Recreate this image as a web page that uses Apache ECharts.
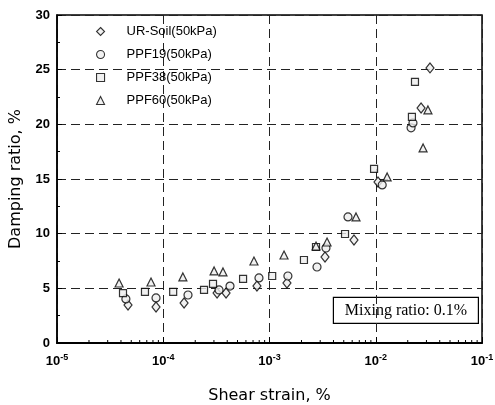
<!DOCTYPE html>
<html>
<head>
<meta charset="utf-8">
<script src="https://cdn.jsdelivr.net/npm/echarts@6/dist/echarts.min.js"></script>
<style>
  html, body { margin: 0; padding: 0; background: #fff; }
  #chart { width: 495px; height: 405px; }
</style>
</head>
<body>
<div id="chart"></div>
<script>
// Shear strain (%) and damping ratio (%) for each specimen
const urSoilStrain = [4.66e-5, 8.55e-5, 1.57e-4, 3.21e-4, 3.90e-4, 7.62e-4, 1.46e-3, 3.33e-3, 6.24e-3, 1.05e-2, 2.67e-2, 3.24e-2];
const urSoilDamping = [3.48, 3.29, 3.66, 4.57, 4.57, 5.21, 5.49, 7.87, 9.42, 14.73, 21.5, 25.16];

const ppf19Strain = [4.45e-5, 8.55e-5, 1.71e-4, 3.35e-4, 4.25e-4, 7.96e-4, 1.49e-3, 2.80e-3, 3.40e-3, 5.48e-3, 1.15e-2, 2.15e-2, 2.24e-2];
const ppf19Damping = [4.03, 4.12, 4.39, 4.85, 5.21, 5.95, 6.13, 6.95, 8.69, 11.53, 14.46, 19.68, 20.13];

const ppf38Strain = [4.18e-5, 6.73e-5, 1.24e-4, 2.42e-4, 2.94e-4, 5.64e-4, 1.06e-3, 2.11e-3, 2.74e-3, 5.14e-3, 9.64e-3, 2.19e-2, 2.34e-2];
const ppf38Damping = [4.57, 4.67, 4.67, 4.85, 5.40, 5.86, 6.13, 7.59, 8.78, 9.97, 15.92, 20.68, 23.88];

const ppf60Strain = [3.84e-5, 7.67e-5, 1.53e-4, 3.01e-4, 3.65e-4, 7.14e-4, 1.37e-3, 2.74e-3, 3.48e-3, 6.52e-3, 1.28e-2, 2.79e-2, 3.10e-2];
const ppf60Damping = [5.49, 5.58, 6.04, 6.59, 6.50, 7.50, 8.05, 8.87, 9.24, 11.53, 15.19, 17.84, 21.32];

const seriesNames = ['UR-Soil(50kPa)', 'PPF19(50kPa)', 'PPF38(50kPa)', 'PPF60(50kPa)'];
const noteText = 'Mixing ratio: 0.1%';

const zip = (xs, ys) => xs.map((x, i) => [x, ys[i]]);

const markerStyle = { color: '#eeeeee', borderColor: '#000', borderWidth: 1.2 };

function scatter(name, xs, ys, symbol, size) {
  return {
    name: name,
    type: 'scatter',
    data: zip(xs, ys),
    symbol: symbol,
    symbolSize: size,
    itemStyle: markerStyle,
    z: 5
  };
}

// Minor ticks of the log axis at 2..9 x 10^k, placed through the axis scale
const minorTickValues = [];
for (let e = -5; e < -1; e++) {
  for (let m = 2; m <= 9; m++) minorTickValues.push([m * Math.pow(10, e), 0]);
}

const chart = echarts.init(document.getElementById('chart'));

chart.setOption({
  animation: false,
  backgroundColor: '#fff',
  grid: {
    left: 57, right: 13, top: 15, bottom: 62,
    outerBoundsMode: 'none',
    show: true, borderColor: '#000', borderWidth: 1.5
  },
  legend: {
    orient: 'vertical',
    left: 96,
    top: 25,
    padding: 0,
    itemWidth: 8,
    itemHeight: 8,
    itemGap: 10,
    data: seriesNames,
    itemStyle: { borderWidth: 1.1 },
    textStyle: { fontFamily: 'Liberation Sans, Arial', fontSize: 13, color: '#000', padding: [0, 0, 0, 17] }
  },
  xAxis: {
    type: 'log',
    logBase: 10,
    min: 1e-5,
    max: 1e-1,
    name: 'Shear strain, %',
    nameLocation: 'middle',
    nameGap: 45,
    nameTextStyle: { fontFamily: 'DejaVu Sans', fontSize: 16, color: '#000' },
    axisLine: { lineStyle: { color: '#000', width: 2 } },
    axisTick: { inside: true, length: 6, lineStyle: { color: '#000' } },
    axisLabel: {
      margin: 10,
      color: '#000',
      formatter: function (v) {
        const e = Math.round(Math.log10(v));
        return '{b|10}{s|' + e + '}';
      },
      rich: {
        b: { fontFamily: 'Liberation Sans, Arial', fontWeight: 'bold', fontSize: 13, color: '#000' },
        s: { fontFamily: 'Liberation Sans, Arial', fontWeight: 'bold', fontSize: 9, color: '#000', padding: [0, 0, 7, 0] }
      }
    },
    splitLine: { show: true, lineStyle: { color: '#222', type: [9, 5], width: 1 } }
  },
  yAxis: {
    type: 'value',
    min: 0,
    max: 30,
    interval: 5,
    name: 'Damping ratio, %',
    nameLocation: 'middle',
    nameGap: 33,
    nameTextStyle: { fontFamily: 'DejaVu Sans', fontSize: 16, color: '#000' },
    axisLine: { show: true, lineStyle: { color: '#000', width: 1.5 } },
    axisTick: { show: true, inside: true, length: 5, lineStyle: { color: '#000' } },
    minorTick: { show: true, splitNumber: 2, length: 3, lineStyle: { color: '#000' } },
    axisLabel: { margin: 7, color: '#000', fontFamily: 'Liberation Sans, Arial', fontWeight: 'bold', fontSize: 13 },
    splitLine: { show: true, lineStyle: { color: '#222', type: [9, 5], width: 1 } }
  },
  series: [
    scatter(seriesNames[0], urSoilStrain, urSoilDamping, 'diamond', [8, 10]),
    scatter(seriesNames[1], ppf19Strain, ppf19Damping, 'circle', 8),
    scatter(seriesNames[2], ppf38Strain, ppf38Damping, 'rect', 7),
    scatter(seriesNames[3], ppf60Strain, ppf60Damping, 'triangle', 8),
    {
      type: 'custom',
      silent: true,
      data: minorTickValues,
      renderItem: function (params, api) {
        const p = api.coord([api.value(0), 0]);
        return { type: 'line', shape: { x1: p[0], y1: p[1], x2: p[0], y2: p[1] - 3 }, style: { stroke: '#000', lineWidth: 1 } };
      },
      z: 3
    }
  ],
  graphic: [
    {
      type: 'group',
      right: 16,
      bottom: 81,
      children: [
        { type: 'rect', shape: { x: 0, y: 0, width: 145, height: 26 }, style: { fill: '#fff', stroke: '#000', lineWidth: 1.2 } },
        { type: 'text', x: 72.5, y: 13, style: { text: noteText, fontFamily: 'Liberation Serif, Times New Roman', fontSize: 16, fill: '#000', align: 'center', verticalAlign: 'middle' } }
      ]
    }
  ]
});
</script>
</body>
</html>
